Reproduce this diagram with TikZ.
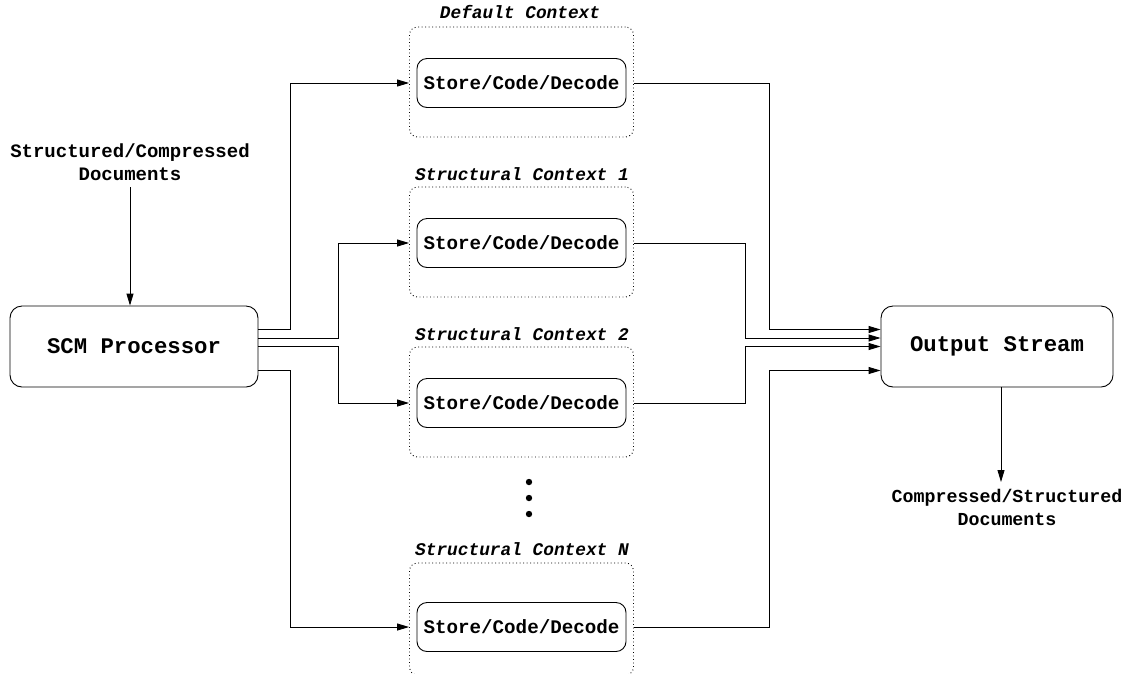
\documentclass[tikz,border=0pt]{standalone}
\usepackage{fontspec}
\setmonofont{Liberation Mono}
\usetikzlibrary{arrows.meta}
\begin{document}
\begin{tikzpicture}[x=1pt,y=-1pt,line width=0.9pt,
  arr/.style={-{Triangle[length=12pt,width=7pt]}},
  bigbox/.style={draw,rounded corners=12pt,minimum width=248pt,minimum height=81pt,inner sep=0pt,font=\fontsize{22.3}{26}\ttfamily\bfseries},
  scd/.style={draw,rounded corners=10pt,minimum width=209pt,minimum height=49pt,inner sep=0pt,font=\fontsize{19.2}{22}\ttfamily\bfseries},
  ctx/.style={draw,dash pattern=on 0.9pt off 2.6pt,rounded corners=8pt,minimum width=224pt,minimum height=110pt,inner sep=0pt},
  lbl/.style={inner sep=0pt,font=\fontsize{17.8}{20}\ttfamily\bfseries\itshape},
  doc/.style={inner sep=0pt,align=center,font=\fontsize{19}{23}\ttfamily\bfseries}]
\useasboundingbox (0,0) rectangle (1134,673);
\begin{scope}
\clip (0,0) rectangle (1134,673);
% context boxes
\node[ctx] (d0) at (521.5,82) {};
\node[ctx] (d1) at (521.5,242) {};
\node[ctx] (d2) at (521.5,402) {};
\node[ctx,minimum height=112pt] (d3) at (521.5,619) {};
\end{scope}
\node[scd] (s0) at (521.5,83) {Store/Code/Decode};
\node[scd] (s1) at (521.5,243) {Store/Code/Decode};
\node[scd] (s2) at (521.5,403) {Store/Code/Decode};
\node[scd] (s3) at (521.5,627) {Store/Code/Decode};
\node[lbl] (l0) at (520,12) {Default Context};
\node[lbl] (l1) at (522,174) {Structural Context 1};
\node[lbl] (l2) at (522,334) {Structural Context 2};
\node[lbl] (l3) at (522,549) {Structural Context N};
\fill (529,482) circle (3.2);
\fill (529,498) circle (3.2);
\fill (529,514) circle (3.2);
% main boxes
\node[bigbox] (scm) at (134,346.5) {SCM Processor};
\node[bigbox,minimum width=232pt] (out) at (997,346.5) {Output Stream};
% input / output texts
\node[doc] (in) at (130,162) {Structured/Compressed\\Documents};
\coordinate (inA) at (130,187);
\draw[arr] (inA) -- (inA |- scm.north);
\node[doc,font=\fontsize{18.3}{23}\ttfamily\bfseries] (res) at (1007,507) {Compressed/Structured\\Documents};
\coordinate (outA) at (1001,482);
\draw[arr] (outA |- out.south) -- (outA);
% SCM to contexts
\draw[arr] ([yshift=17pt]scm.east) -- ++(32,0) |- (d0.west |- s0);
\draw[arr] ([yshift=8.5pt]scm.east) -- ++(80,0) |- (d1.west |- s1);
\draw[arr] (scm.east) -- ++(80,0) |- (d2.west |- s2);
\draw[arr] ([yshift=-24pt]scm.east) -- ++(32,0) |- (d3.west |- s3);
% contexts to output
\draw[arr] (d0.east |- s0) -- ++(135,0) |- ([yshift=17pt]out.west);
\draw[arr] (d1.east |- s1) -- ++(111.5,0) |- ([yshift=8.5pt]out.west);
\draw[arr] (d2.east |- s2) -- ++(111.5,0) |- (out.west);
\draw[arr] (d3.east |- s3) -- ++(135,0) |- ([yshift=-24pt]out.west);
\end{tikzpicture}
\end{document}
